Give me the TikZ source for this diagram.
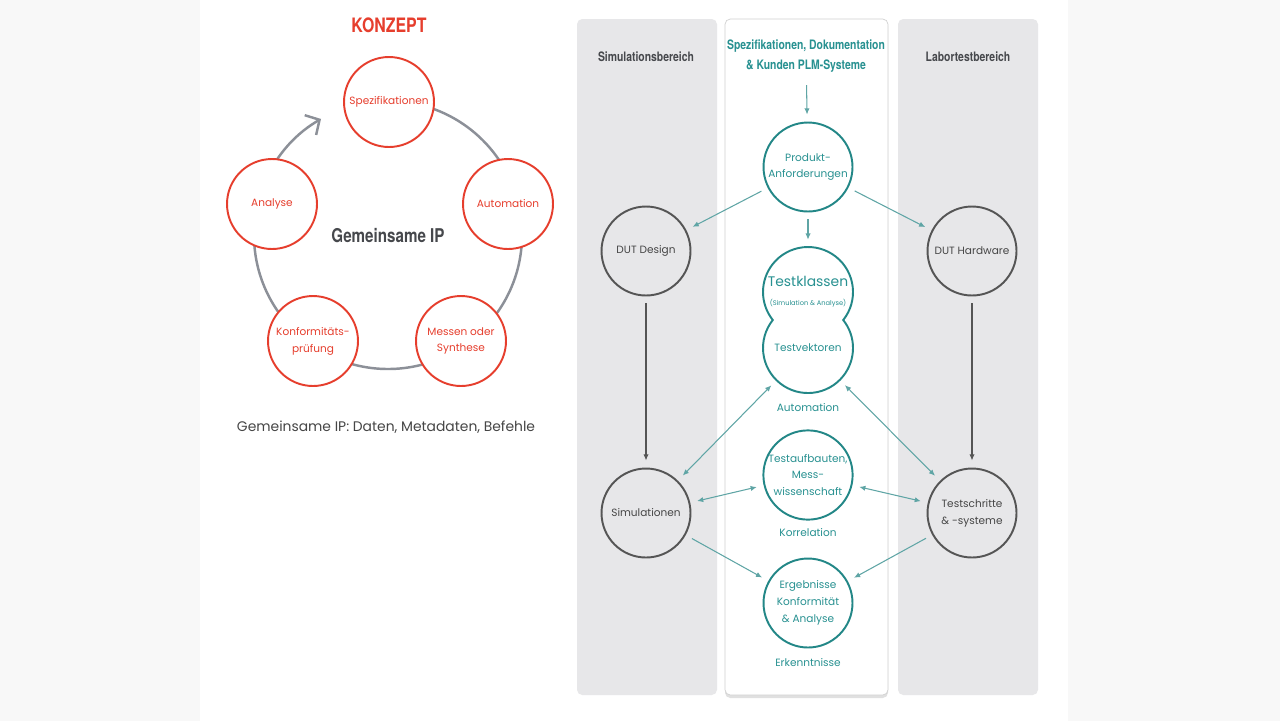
\documentclass[tikz,border=0pt]{standalone}
\usepackage{fontspec}
\setmainfont{Poppins}
\newfontfamily\condfont[FakeStretch=0.8]{TeX Gyre Heros}
\usetikzlibrary{arrows.meta}

\definecolor{konzeptred}{RGB}{230,62,45}
\definecolor{ringgrey}{RGB}{140,144,152}
\definecolor{ringdark}{RGB}{70,72,76}
\definecolor{panelgrey}{RGB}{231,231,233}
\definecolor{darkring}{RGB}{85,85,85}
\definecolor{darktext}{RGB}{70,70,70}
\definecolor{tealring}{RGB}{35,135,135}
\definecolor{tealtext}{RGB}{40,145,145}
\definecolor{teallink}{RGB}{95,165,165}
\definecolor{margin}{RGB}{248,248,248}

\begin{document}
\begin{tikzpicture}[x=0.02cm,y=-0.02cm,
  >={Latex[length=3.5pt,width=3pt]},
  redstep/.style={circle,draw=konzeptred,line width=1.1pt,fill=white,
    minimum size=1.8cm,inner sep=0pt,text=konzeptred,align=center,
    font=\fontsize{6}{9.6}\selectfont},
  greystep/.style={circle,draw=darkring,line width=1.1pt,minimum size=1.78cm,
    inner sep=0pt,text=darktext,align=center,font=\fontsize{6}{9.6}\selectfont},
  tealstep/.style={greystep,draw=tealring,text=tealtext,fill=white},
  lane/.style={fill=panelgrey,rounded corners=3pt},
  head/.style={font=\condfont\bfseries\fontsize{7.4}{11}\selectfont,align=center},
  note/.style={text=tealtext,font=\fontsize{6}{7}\selectfont},
  link/.style={draw=teallink,line width=0.6pt,shorten <=4pt,shorten >=4pt},
  down/.style={link,draw=darkring}]

  % page and lanes
  \fill[margin] (0,0) rectangle (1280,721);
  \fill[white] (200,0) rectangle (1068,721);
  \fill[lane] (577,19) rectangle (717,695);
  \fill[lane] (898,19) rectangle (1038,695);
  \fill[black!12,rounded corners=3pt] (725,21) rectangle (888,698);
  \filldraw[fill=white,draw=black!18,rounded corners=3pt] (725,19) rectangle (888,695);

  % konzept ring
  \node[font=\condfont\bfseries\fontsize{11.3}{13}\selectfont,text=konzeptred] (konzept) at (389,25) {KONZEPT};
  \draw[ringgrey,line width=1.4pt,-{Straight Barb[length=6pt,width=13pt]}]
    (388,235) ++(-90:134) arc[start angle=-90,end angle=240,radius=134];
  \node[redstep] (spez) at (389,102) {Spezifikationen};
  \node[redstep] (auto) at (508,204) {Automation};
  \node[redstep] (messen) at (461,341) {Messen oder\\Synthese};
  \node[redstep] (konf) at (313,341) {Konformitäts-\\prüfung};
  \node[redstep] (ana) at (272,204) {Analyse};
  \node[font=\condfont\bfseries\fontsize{10.8}{12}\selectfont,text=ringdark] (gip) at (388,236) {Gemeinsame IP};
  \node[text=darktext,font=\fontsize{7.9}{9}\selectfont] (cap) at (386,427) {Gemeinsame IP: Daten, Metadaten, Befehle};

  % lane heads
  \node[head,text=ringdark] (simhead) at (646,57) {Simulationsbereich};
  \node[head,text=ringdark] (labhead) at (968,57) {Labortestbereich};
  \node[head,text=tealtext] (spechead) at (806,56) {Spezifikationen, Dokumentation\\\& Kunden PLM-Systeme};

  % middle column
  \node[tealstep] (prod) at (808,167) {Produkt-\\Anforderungen};
  \node[circle,minimum size=1.8cm,inner sep=0pt,align=center,text=tealtext] (tk) at (808,292)
    {{\fontsize{7.9}{8.5}\selectfont Testklassen}\\[-1pt]{\fontsize{3.8}{4.5}\selectfont(Simulation \& Analyse)}};
  \node[circle,minimum size=1.8cm,inner sep=0pt,align=center,text=tealtext,
    font=\fontsize{6}{9.6}\selectfont] (tv) at (808,348) {Testvektoren};
  \draw[tealring,line width=1.1pt] (tk.center) ++(38.5:45)
    arc[start angle=38.5,end angle=-218.5,radius=45]
    arc[start angle=218.5,end angle=-38.5,radius=45] -- cycle;
  \node[note] (autolbl) at (808,408) {Automation};
  \node[tealstep] (tauf) at (808,475) {Testaufbauten,\\Mess-\\wissenschaft};
  \node[note] (korr) at (808,533) {Korrelation};
  \node[tealstep] (erg) at (808,603) {Ergebnisse\\Konformität\\\& Analyse};
  \node[note] (erk) at (808,663) {Erkenntnisse};

  % side columns
  \node[greystep] (dutd) at (646,251) {DUT Design};
  \node[greystep] (sim) at (646,513) {Simulationen};
  \node[greystep] (duth) at (972,251) {DUT Hardware};
  \node[greystep] (tschr) at (972,513) {Testschritte\\\& -systeme};

  % links
  \draw[link,->] (spechead) -- (prod);
  \draw[link,->] (prod) -- (tk);
  \draw[link,->] (prod) -- (dutd);
  \draw[link,->] (prod) -- (duth);
  \draw[down,->] (dutd) -- (sim);
  \draw[down,->] (duth) -- (tschr);
  \draw[link,<->] (tv) -- (sim);
  \draw[link,<->] (tv) -- (tschr);
  \draw[link,<->] (tauf) -- (sim);
  \draw[link,<->] (tauf) -- (tschr);
  \draw[link,->] (sim) -- (erg);
  \draw[link,->] (tschr) -- (erg);
\end{tikzpicture}
\end{document}
